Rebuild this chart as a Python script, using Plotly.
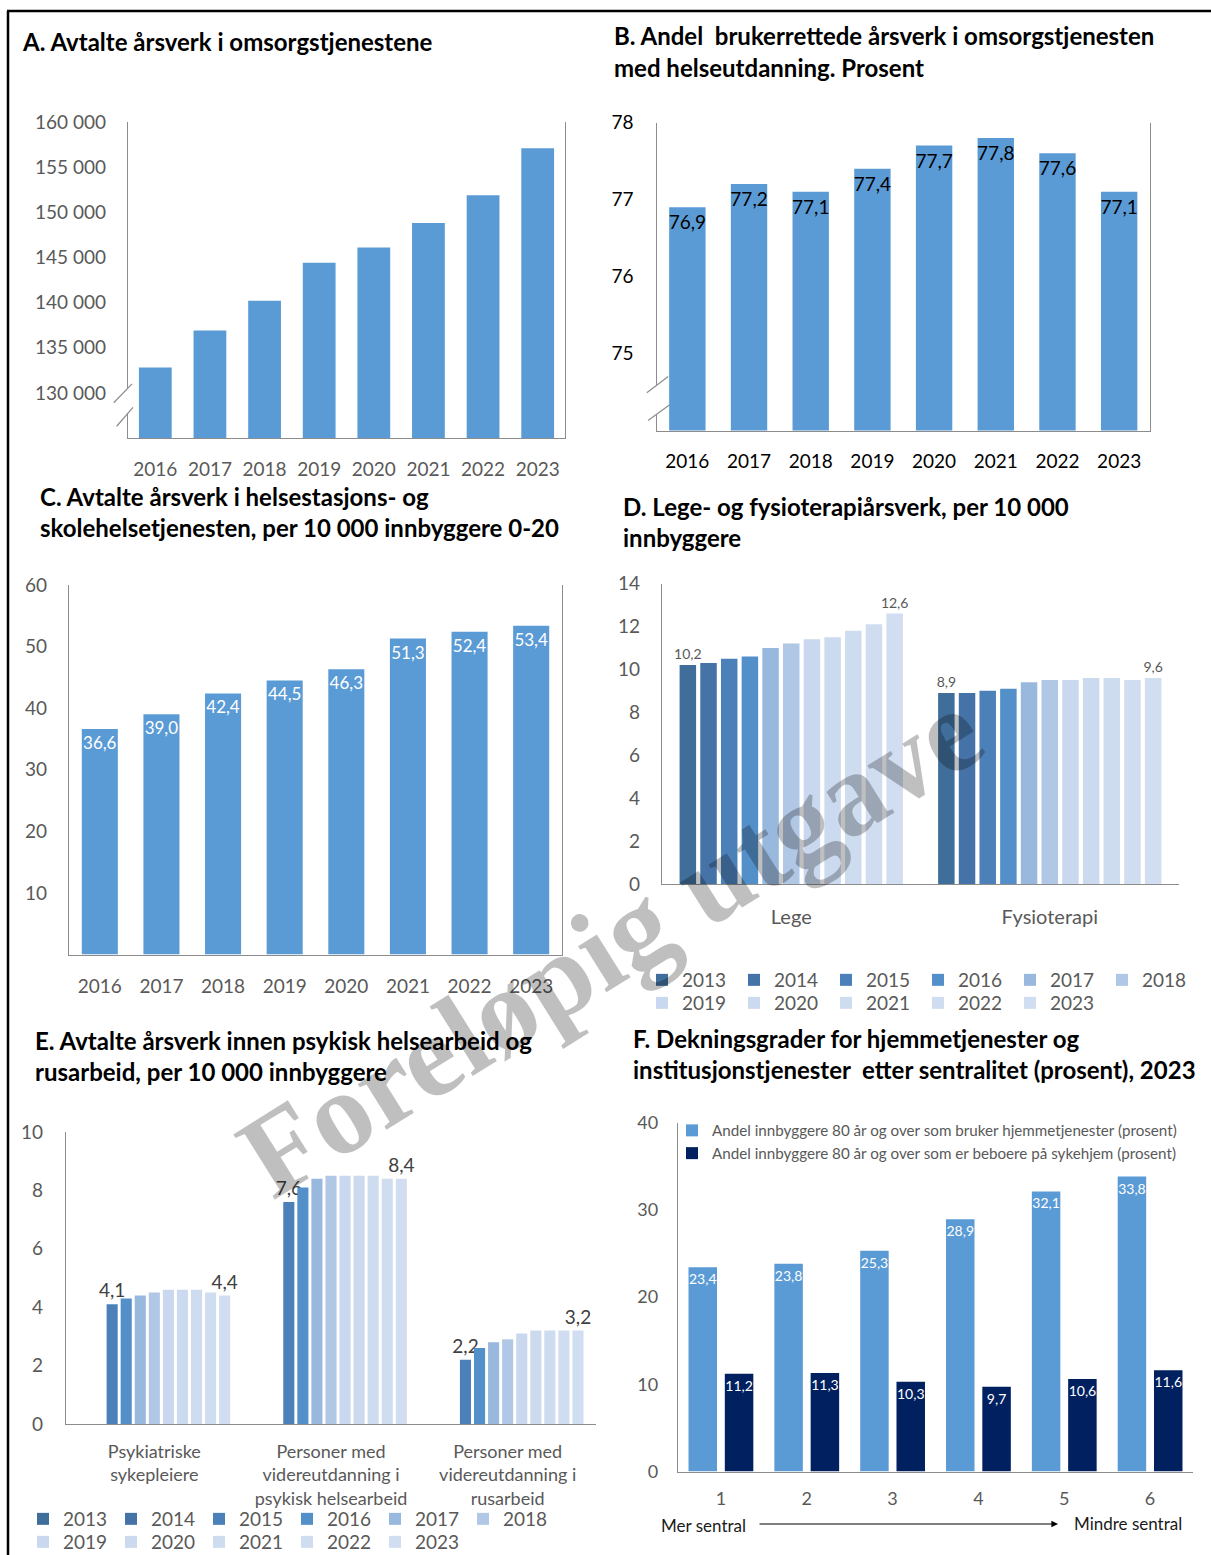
import plotly.graph_objects as go

W, H = 1211, 1555

# ---------------- data ----------------
years_af = ["2016", "2017", "2018", "2019", "2020", "2021", "2022", "2023"]
arsverk_omsorg = [132800, 136900, 140200, 144400, 146100, 148800, 151900, 157100]
andel_helseutdanning = [76.9, 77.2, 77.1, 77.4, 77.7, 77.8, 77.6, 77.1]
helsestasjon_skole = [36.6, 39.0, 42.4, 44.5, 46.3, 51.3, 52.4, 53.4]

legend_years = ["2013", "2014", "2015", "2016", "2017", "2018",
                "2019", "2020", "2021", "2022", "2023"]
d_categories = ["Lege", "Fysioterapi"]
lege_arsverk = [10.2, 10.3, 10.5, 10.6, 11.0, 11.2, 11.4, 11.5, 11.8, 12.1, 12.6]
fysio_arsverk = [8.9, 8.9, 9.0, 9.1, 9.4, 9.5, 9.5, 9.6, 9.6, 9.5, 9.6]

e_categories = ["Psykiatriske<br>sykepleiere",
                "Personer med<br>videreutdanning i<br>psykisk helsearbeid",
                "Personer med<br>videreutdanning i<br>rusarbeid"]
psykiatriske_sykepleiere = [None, None, 4.1, 4.3, 4.4, 4.5, 4.6, 4.6, 4.6, 4.5, 4.4]
videreutd_psykisk = [None, None, 7.6, 8.1, 8.4, 8.5, 8.5, 8.5, 8.5, 8.4, 8.4]
videreutd_rus = [None, None, 2.2, 2.6, 2.8, 2.9, 3.1, 3.2, 3.2, 3.2, 3.2]

sentralitet = ["1", "2", "3", "4", "5", "6"]
f_series = ["Andel innbyggere 80 år og over som bruker hjemmetjenester (prosent)",
            "Andel innbyggere 80 år og over som er beboere på sykehjem (prosent)"]
hjemmetjenester = [23.4, 23.8, 25.3, 28.9, 32.1, 33.8]
sykehjem = [11.2, 11.3, 10.3, 9.7, 10.6, 11.6]

a_ticks = [130000, 135000, 140000, 145000, 150000, 155000, 160000]
b_ticks = [75, 76, 77, 78]
c_ticks = [10, 20, 30, 40, 50, 60]
d_ticks = [0, 2, 4, 6, 8, 10, 12, 14]
e_ticks = [0, 2, 4, 6, 8, 10]
f_ticks = [0, 10, 20, 30, 40]

# ---------------- style ----------------
FONT = "Lato"
GRAY = "#595959"
AXC = "#8c8c8c"
BLUE = "#5B9BD5"
NAVY = "#002060"
year_colors = ["#3F6E9A", "#4573A8", "#4C80B9", "#5390CA", "#99B8DE", "#B0C7E5",
               "#C9D8EE", "#CCDAEF", "#CEDCF0", "#D0DDF0", "#D1DEF1"]


def fmt(v):
    return f"{v:.1f}".replace(".", ",")


def xdom(x0, x1):
    return [x0 / W, x1 / W]


def ydom(top, bottom):
    return [1 - bottom / H, 1 - top / H]


def px_x(x):
    return x / W


def px_y(y):
    return 1 - y / H


fig = go.Figure()

# A
fig.add_trace(go.Bar(x=years_af, y=arsverk_omsorg, marker=dict(color=BLUE, line=dict(width=0)),
                     width=0.6, xaxis="x", yaxis="y", showlegend=False, hoverinfo="skip"))
# B
fig.add_trace(go.Bar(x=years_af, y=andel_helseutdanning, marker=dict(color=BLUE, line=dict(width=0)),
                     width=0.59, xaxis="x2", yaxis="y2", showlegend=False,
                     text=[fmt(v) for v in andel_helseutdanning], textposition="inside",
                     insidetextanchor="end", textangle=0, constraintext="none",
                     textfont=dict(family=FONT, size=19, color="black"), hoverinfo="skip"))
# C
fig.add_trace(go.Bar(x=years_af, y=helsestasjon_skole, marker=dict(color=BLUE, line=dict(width=0)),
                     width=0.585, xaxis="x3", yaxis="y3", showlegend=False,
                     text=[fmt(v) for v in helsestasjon_skole], textposition="inside",
                     insidetextanchor="end", textangle=0, constraintext="none",
                     textfont=dict(family=FONT, size=17, color="white"), hoverinfo="skip"))

# D
D_PITCH, D_BW = 0.080, 0.0638
d_span = (len(legend_years) - 1) * D_PITCH + D_BW
for i, yr in enumerate(legend_years):
    vals = [lege_arsverk[i], fysio_arsverk[i]]
    show_txt = i in (0, len(legend_years) - 1)
    fig.add_trace(go.Bar(
        x=d_categories, y=vals, name=yr, marker=dict(color=year_colors[i], line=dict(width=0)),
        width=D_BW, offset=-d_span / 2 + i * D_PITCH, xaxis="x4", yaxis="y4",
        legend="legend" if i < 6 else "legend2",
        text=[fmt(v) for v in vals] if show_txt else None, textposition="outside",
        textangle=0, constraintext="none", cliponaxis=False,
        textfont=dict(family=FONT, size=14, color=GRAY), hoverinfo="skip"))

# E
E_PITCH, E_BW = 0.0796, 0.0628
e_span = (len(legend_years) - 1) * E_PITCH + E_BW
for i, yr in enumerate(legend_years):
    vals = [psykiatriske_sykepleiere[i], videreutd_psykisk[i], videreutd_rus[i]]
    show_txt = i in (2, len(legend_years) - 1)
    fig.add_trace(go.Bar(
        x=e_categories, y=vals, name=yr, marker=dict(color=year_colors[i], line=dict(width=0)),
        width=E_BW, offset=-e_span / 2 + i * E_PITCH, xaxis="x5", yaxis="y5",
        legend="legend3" if i < 6 else "legend4",
        text=[fmt(v) for v in vals] if show_txt else None, textposition="outside",
        textangle=0, constraintext="none", cliponaxis=False,
        textfont=dict(family=FONT, size=19, color="#404040"), hoverinfo="skip"))

# F
F_PITCH, F_BW = 0.423, 0.332
f_span = F_PITCH + F_BW
for k, (name, vals, col) in enumerate(zip(f_series, [hjemmetjenester, sykehjem], [BLUE, NAVY])):
    fig.add_trace(go.Bar(
        x=sentralitet, y=vals, name=name, marker=dict(color=col, line=dict(width=0)),
        width=F_BW, offset=-f_span / 2 + k * F_PITCH, xaxis="x6", yaxis="y6",
        legend="legend5", text=[fmt(v) for v in vals], textposition="inside",
        insidetextanchor="end", textangle=0, constraintext="none",
        textfont=dict(family=FONT, size=14, color="white"), hoverinfo="skip"))


def xax(dom, anchor, standoff, size=19, color=GRAY):
    return dict(domain=dom, anchor=anchor, showgrid=False, zeroline=False, showline=True,
                linecolor=AXC, linewidth=1.3, ticks="", ticklabelstandoff=standoff,
                tickfont=dict(family=FONT, size=size, color=color), fixedrange=True)


def yax(dom, anchor, rng, tickvals, standoff, mirror=False, size=19, color=GRAY):
    return dict(domain=dom, anchor=anchor, range=rng, tickmode="array", tickvals=tickvals,
                tickformat=",d", showgrid=False, zeroline=False, showline=True, mirror=mirror,
                linecolor=AXC, linewidth=1.3, ticks="", ticklabelstandoff=standoff,
                tickfont=dict(family=FONT, size=size, color=color), fixedrange=True)


def leg(x, y, entrywidth, size=19, orientation="h", yanchor="middle"):
    return dict(orientation=orientation, x=x, y=y, xanchor="left", yanchor=yanchor,
                entrywidth=entrywidth, entrywidthmode="pixels", traceorder="normal",
                bgcolor="rgba(0,0,0,0)", borderwidth=0, tracegroupgap=0,
                font=dict(family=FONT, size=size, color=GRAY))


layout = dict(
    width=W, height=H, autosize=False,
    margin=dict(l=0, r=0, t=0, b=0, autoexpand=False),
    paper_bgcolor="white", plot_bgcolor="rgba(0,0,0,0)", barmode="group",
    separators=", ", font=dict(family=FONT, color=GRAY),
    xaxis=xax(xdom(128, 565), "y", 14),
    yaxis=yax(ydom(122, 438), "x", [125000, 160000], a_ticks, 17, mirror=True),
    xaxis2=xax(xdom(656.5, 1150), "y2", 14, color="black"),
    yaxis2=yax(ydom(122.5, 430.5), "x2", [74, 78], b_ticks, 18, mirror=True, color="black"),
    xaxis3=xax(xdom(69, 562), "y3", 15),
    yaxis3=yax(ydom(585, 954.5), "x3", [0, 60], c_ticks, 17, mirror=True),
    xaxis4=xax(xdom(662, 1179), "y4", 15, size=20),
    yaxis4=yax(ydom(583.5, 884), "x4", [0, 14], d_ticks, 17),
    xaxis5=xax(xdom(66, 596), "y5", 11, size=18),
    yaxis5=yax(ydom(1132, 1424), "x5", [0, 10], e_ticks, 18),
    xaxis6=xax(xdom(678, 1193), "y6", 11, size=18),
    yaxis6=yax(ydom(1122.5, 1471.5), "x6", [0, 40], f_ticks, 15, size=18),
    legend=leg(px_x(642), px_y(980), 47),
    legend2=leg(px_x(642), px_y(1003), 47),
    legend3=leg(px_x(23), px_y(1519), 43),
    legend4=leg(px_x(23), px_y(1542), 43),
    legend5=leg(px_x(672), px_y(1114), None, size=15.2, orientation="v", yanchor="top"),
)
fig.update_layout(**layout)

# ---------------- titles & texts ----------------
titles = [
    ("A. Avtalte årsverk i omsorgstjenestene", 20, 41),
    ("B. Andel\u00a0 brukerrettede årsverk i omsorgstjenesten", 612, 36),
    ("med helseutdanning. Prosent", 612, 67),
    ("C. Avtalte årsverk i helsestasjons- og", 38, 496),
    ("skolehelsetjenesten, per 10 000 innbyggere 0-20", 38, 527),
    ("D. Lege- og fysioterapiårsverk, per 10 000", 621, 506),
    ("innbyggere", 621, 537),
    ("E. Avtalte årsverk innen psykisk helsearbeid og", 33, 1040),
    ("rusarbeid, per 10 000 innbyggere", 33, 1071),
    ("F. Dekningsgrader for hjemmetjenester og", 631, 1038),
    ("institusjonstjenester\u00a0 etter sentralitet (prosent), 2023", 631, 1069),
]
for txt, x, y in titles:
    fig.add_annotation(text=txt, x=px_x(x), y=px_y(y), xref="paper", yref="paper",
                       xanchor="left", yanchor="middle", showarrow=False,
                       font=dict(family=FONT, size=24, color="black", weight="bold"))

fig.add_annotation(text="Mer sentral", x=px_x(703), y=px_y(1525), xref="paper", yref="paper",
                   xanchor="center", yanchor="middle", showarrow=False,
                   font=dict(family=FONT, size=17, color="#1a1a1a"))
fig.add_annotation(text="Mindre sentral", x=px_x(1128), y=px_y(1523), xref="paper", yref="paper",
                   xanchor="center", yanchor="middle", showarrow=False,
                   font=dict(family=FONT, size=17, color="#1a1a1a"))
fig.add_annotation(text="", x=px_x(1058), y=px_y(1524), xref="paper", yref="paper",
                   ax=-300, ay=0, axref="pixel", ayref="pixel", showarrow=True,
                   arrowhead=2, arrowsize=1.1, arrowwidth=1.2, arrowcolor="black")

# watermark
fig.add_annotation(text="Foreløpig utgave", x=px_x(610), y=px_y(943), xref="paper", yref="paper",
                   xanchor="center", yanchor="middle", showarrow=False, textangle=-32,
                   font=dict(family="Liberation Serif", size=118, color="rgba(0,0,0,0.25)",
                             weight="bold"))

# ---------------- decorations: frame + axis breaks ----------------
shapes = [
    dict(type="line", xref="paper", yref="paper", x0=px_x(7), x1=1, y0=px_y(11), y1=px_y(11),
         line=dict(color="black", width=2.5)),
    dict(type="line", xref="paper", yref="paper", x0=px_x(8), x1=px_x(8), y0=px_y(11), y1=0,
         line=dict(color="black", width=2.5)),
    # A break
    dict(type="rect", xref="x domain", yref="y", x0=-0.007, x1=0.007, y0=127760, y1=130540,
         fillcolor="white", line=dict(width=0)),
    dict(type="line", xref="x domain", yref="y", x0=-0.0327, x1=0.0092, y0=128900, y1=131000,
         line=dict(color=AXC, width=1.2)),
    dict(type="line", xref="x domain", yref="y", x0=-0.026, x1=0.0114, y0=126300, y1=128400,
         line=dict(color=AXC, width=1.2)),
    # B break
    dict(type="rect", xref="x2 domain", yref="y2", x0=-0.006, x1=0.006, y0=74.21, y1=74.585,
         fillcolor="white", line=dict(width=0)),
    dict(type="line", xref="x2 domain", yref="y2", x0=-0.0197, x1=0.0237, y0=74.49, y1=74.70,
         line=dict(color=AXC, width=1.2)),
    dict(type="line", xref="x2 domain", yref="y2", x0=-0.0172, x1=0.0261, y0=74.13, y1=74.33,
         line=dict(color=AXC, width=1.2)),
]
fig.update_layout(shapes=shapes)

fig.write_html("out.html", config={"displayModeBar": False})
